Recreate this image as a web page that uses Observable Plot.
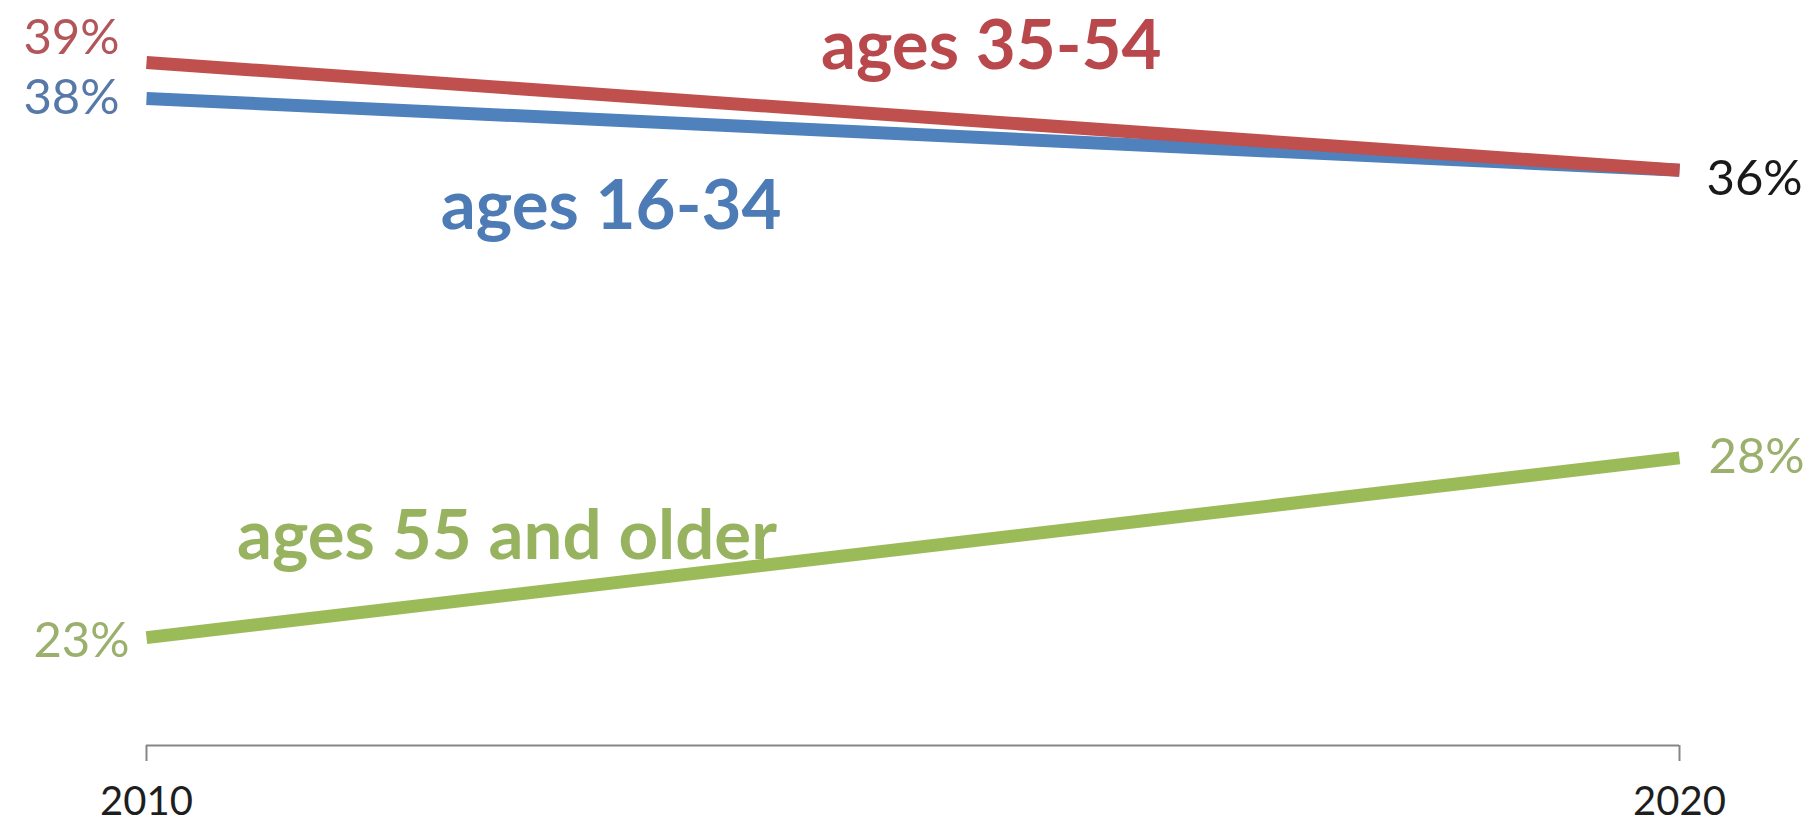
<!DOCTYPE html>
<html>
<head>
<meta charset="utf-8">
<script src="https://cdn.jsdelivr.net/npm/d3@7"></script>
<script src="https://cdn.jsdelivr.net/npm/@observablehq/plot@0.6"></script>
<style>
  html, body { margin: 0; padding: 0; background: #ffffff; }
  #chart svg { display: block; }
</style>
</head>
<body>
<div id="chart"></div>
<script>
// ---- Data ----
const years = [2010, 2020];
const seriesNames = ["ages 16-34", "ages 35-54", "ages 55 and older"];
const values16to34 = [38, 36];
const values35to54 = [39, 36];
const values55plus = [23, 28];

// ---- Build table ----
const seriesValues = [values16to34, values35to54, values55plus];
const rows = [];
seriesNames.forEach((s, i) => {
  years.forEach((yr, j) => rows.push({series: s, year: yr, value: seriesValues[i][j]}));
});
const pick = (s, yr) => rows.find(d => d.series === s && d.year === yr);

const lineColors = ["#4f81bd", "#c0504d", "#9bbb59"];
const labelColors = {"ages 16-34": "#4d7bb6", "ages 35-54": "#b9484d", "ages 55 and older": "#97b35f"};
const pctColors = {"ages 16-34": "#5679a8", "ages 35-54": "#b2565a", "ages 55 and older": "#9ab06c"};

const font = "Lato, 'Open Sans', 'DejaVu Sans', sans-serif";
const pct = d => `${d.value}%`;

// end-label placements (pixel offsets from line endpoints)
const endLabels = [
  {row: pick("ages 35-54", years[0]), anchor: "end", dx: -27, dy: -24, fill: pctColors["ages 35-54"]},
  {row: pick("ages 16-34", years[0]), anchor: "end", dx: -27, dy: 0, fill: pctColors["ages 16-34"]},
  {row: pick("ages 55 and older", years[0]), anchor: "end", dx: -17, dy: 4, fill: pctColors["ages 55 and older"]},
  {row: pick("ages 35-54", years[1]), anchor: "start", dx: 27, dy: 9, fill: "#1a1a1a"},
  {row: pick("ages 55 and older", years[1]), anchor: "start", dx: 29, dy: -1, fill: pctColors["ages 55 and older"]}
];

// series name annotations, placed in data space
const nameLabels = [
  {series: "ages 35-54", year: 2014.40, value: 39.44},
  {series: "ages 16-34", year: 2011.92, value: 34.97},
  {series: "ages 55 and older", year: 2010.59, value: 25.80}
];

const yMin = 20, yMax = 40;

const chart = Plot.plot({
  width: 1819,
  height: 825,
  marginLeft: 146,
  marginRight: 140,
  marginTop: 26,
  marginBottom: 80,
  style: {fontFamily: font, background: "#ffffff"},
  x: {domain: [years[0], years[1]], axis: null},
  y: {domain: [yMin, yMax], axis: null},
  color: {domain: seriesNames, range: lineColors},
  marks: [
    Plot.ruleY([yMin], {x1: years[0], x2: years[years.length - 1], stroke: "#868686", strokeWidth: 2}),
    Plot.axisX({
      ticks: years,
      tickFormat: d => String(d),
      label: null,
      tickSize: 16,
      tickPadding: 25,
      fontSize: 40,
      stroke: "#868686",
      strokeWidth: 2,
      fill: "#1e1e1e",
      strokeOpacity: 1
    }),
    Plot.line(rows, {
      x: "year", y: "value", z: "series", stroke: "series",
      strokeWidth: 13, strokeLinecap: "butt", strokeLinejoin: "round"
    }),
    ...endLabels.map(l => Plot.text([l.row], {
      x: "year", y: "value", text: pct,
      textAnchor: l.anchor, dx: l.dx, dy: l.dy,
      fill: l.fill, fontSize: 49, fontFamily: font
    })),
    Plot.text(nameLabels, {
      x: "year", y: "value", text: "series",
      textAnchor: "start", fontSize: 69, fontWeight: "bold", fontFamily: font,
      fill: d => labelColors[d.series]
    })
  ]
});

document.getElementById("chart").appendChild(chart);
</script>
</body>
</html>
